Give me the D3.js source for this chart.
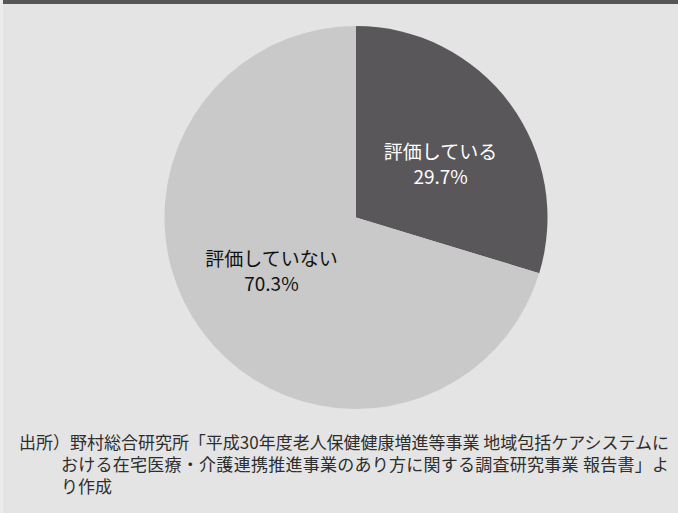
<!DOCTYPE html>
<html lang="ja">
<head>
<meta charset="utf-8">
<script src="https://cdn.jsdelivr.net/npm/d3@7/dist/d3.min.js"></script>
<style>
  html, body { margin: 0; padding: 0; background: #e4e4e4; }
  svg { display: block; }
</style>
</head>
<body>
<svg id="chart" width="678" height="513"></svg>
<script>
// Pie data
const categories = ["評価している", "評価していない"];
const values = [29.7, 70.3];
const valueLabels = ["29.7%", "70.3%"];
const sliceColors = ["#59575a", "#c8c9c8"];
const labelColors = ["#ffffff", "#111111"];

// Source note, one entry per line
const sourceLines = [
  "出所）野村総合研究所「平成30年度老人保健健康増進等事業 地域包括ケアシステムに",
  "おける在宅医療・介護連携推進事業のあり方に関する調査研究事業 報告書」よ",
  "り作成"
];

const W = 678, H = 513;
const cx = 356, cy = 217.5, R = 191.5;
const fontCJK = "'Noto Sans CJK JP', 'Noto Sans', sans-serif";

const svg = d3.select("#chart");

svg.append("rect").attr("width", W).attr("height", H).attr("fill", "#e4e4e4");
svg.append("rect").attr("x", 0).attr("y", 0).attr("width", W).attr("height", 4).attr("fill", "#575557");
svg.append("rect").attr("x", 0).attr("y", 0).attr("width", 3).attr("height", H).attr("fill", "#ebebeb");

const pie = d3.pie().sort(null).value(d => d)(values);
const arc = d3.arc().innerRadius(0).outerRadius(R);

const g = svg.append("g").attr("transform", `translate(${cx},${cy})`);

g.selectAll("path.slice")
  .data(pie)
  .join("path")
  .attr("class", "slice")
  .attr("d", arc)
  .attr("fill", (d, i) => sliceColors[i]);

// Labels sit a little past the slice midpoint, about half a radius out
const labelArc = d3.arc().innerRadius(100).outerRadius(100);
const shift = 0.075;

const labels = g.selectAll("g.label")
  .data(pie)
  .join("g")
  .attr("class", "label")
  .attr("transform", d => {
    const [x, y] = labelArc.centroid({ startAngle: d.startAngle + shift, endAngle: d.endAngle + shift });
    return `translate(${x},${y})`;
  });

labels.append("text")
  .attr("text-anchor", "middle")
  .attr("y", -5)
  .attr("font-family", fontCJK)
  .attr("font-size", 19)
  .attr("fill", (d, i) => labelColors[i])
  .text((d, i) => categories[i]);

labels.append("text")
  .attr("text-anchor", "middle")
  .attr("y", 20)
  .attr("font-family", fontCJK)
  .attr("font-size", 19)
  .attr("fill", (d, i) => labelColors[i])
  .text((d, i) => valueLabels[i]);

// Source note, justified lines like a paragraph block
const noteX = [19, 61, 61];
const noteRight = 669;
const note = svg.append("g").attr("font-family", fontCJK).attr("font-size", 17).attr("fill", "#2e2e2e");
sourceLines.forEach((line, i) => {
  const t = note.append("text")
    .attr("x", noteX[i])
    .attr("y", 449 + i * 22)
    .text(line);
  if (i < sourceLines.length - 1) {
    t.attr("textLength", noteRight - noteX[i]).attr("lengthAdjust", "spacing");
  }
});
</script>
</body>
</html>
